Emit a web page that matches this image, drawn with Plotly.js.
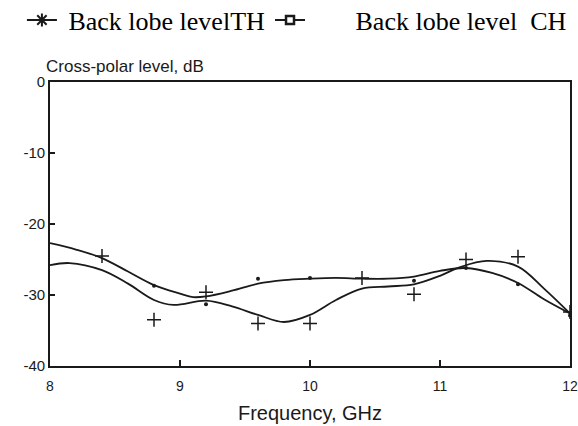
<!DOCTYPE html>
<html>
<head>
<meta charset="utf-8">
<script src="https://cdn.plot.ly/plotly-3.0.1.min.js"></script>
<style>html,body{margin:0;padding:0;background:#fff;}#chart{width:578px;height:426px;}</style>
</head>
<body>
<div id="chart"></div>
<script>
// Smoothed curve TH (starts upper at 8 GHz)
const thFreq = [8.0, 8.2, 8.4, 8.6, 8.8, 9.0, 9.1, 9.2, 9.4, 9.6, 9.8, 10.0, 10.2, 10.4, 10.6, 10.8, 11.0, 11.2, 11.4, 11.6, 11.8, 12.0];
const thLevel = [-22.7, -23.6, -24.8, -26.7, -28.6, -29.8, -30.3, -30.2, -29.4, -28.4, -27.9, -27.7, -27.6, -27.7, -27.7, -27.4, -26.6, -26.2, -26.9, -28.3, -30.6, -32.6];
// Smoothed curve CH (starts lower at 8 GHz)
const chFreq = [8.0, 8.15, 8.4, 8.6, 8.8, 8.95, 9.2, 9.4, 9.6, 9.8, 10.0, 10.2, 10.4, 10.6, 10.8, 11.0, 11.15, 11.36, 11.6, 11.8, 12.0];
const chLevel = [-25.8, -25.5, -26.5, -28.4, -30.7, -31.4, -30.8, -31.6, -32.8, -33.8, -32.8, -30.7, -29.1, -28.8, -28.5, -27.3, -26.1, -25.2, -26.0, -29.1, -32.6];
// Measured points: dots
const dotFreq = [8.8, 9.2, 9.6, 10.0, 10.8, 11.2, 11.6, 12.0];
const dotLevel = [-28.7, -31.3, -27.7, -27.6, -28.0, -26.2, -28.5, -32.9];
// Measured points: crosses
const crossFreq = [8.4, 8.8, 9.2, 9.6, 10.0, 10.4, 10.8, 11.2, 11.6, 12.0];
const crossLevel = [-24.5, -33.5, -29.6, -34.0, -34.0, -27.6, -29.9, -25.0, -24.6, -32.4];

const nameTH = "\u00A0Back lobe levelTH";
const nameCH = "\u00A0\u00A0\u00A0\u00A0\u00A0\u00A0\u00A0Back lobe level\u00A0\u00A0CH";
const xTicks = [8, 9, 10, 11, 12];
const yTicks = [0, -10, -20, -30, -40];

const ink = "#1a1a1a";
const traces = [
  {x: thFreq, y: thLevel, mode: "lines", showlegend: false, line: {shape: "spline", smoothing: 1, color: ink, width: 1.8}},
  {x: chFreq, y: chLevel, mode: "lines", showlegend: false, line: {shape: "spline", smoothing: 1, color: ink, width: 1.8}},
  {x: dotFreq, y: dotLevel, mode: "markers", showlegend: false, marker: {symbol: "circle", size: 4, color: ink}},
  {x: crossFreq, y: crossLevel, mode: "markers", showlegend: false, marker: {symbol: "cross-thin-open", size: 10, color: ink, line: {color: ink, width: 1.5}}},
  // legend keys
  {x: [null], y: [null], name: nameTH, mode: "lines+markers", showlegend: true, line: {color: ink, width: 2},
   marker: {symbol: "asterisk-open", size: 11, color: ink, line: {color: ink, width: 2}}},
  {x: [null], y: [null], name: nameCH, mode: "lines+markers", showlegend: true, line: {color: ink, width: 2},
   marker: {symbol: "square", size: 8, color: "#fff", line: {color: ink, width: 2.5}}}
];

const layout = {
  width: 578, height: 426,
  margin: {l: 50, r: 8, t: 82, b: 60, autoexpand: false},
  paper_bgcolor: "#fff", plot_bgcolor: "#fff",
  font: {family: "Liberation Sans, Arial, sans-serif", color: ink},
  showlegend: true,
  legend: {orientation: "h", x: -0.054, xanchor: "left", y: 1.218, yanchor: "middle",
           font: {family: "Liberation Serif, Times New Roman, serif", size: 26, color: "#000"},
           bgcolor: "rgba(0,0,0,0)", traceorder: "normal"},
  xaxis: {range: [8, 12], tickvals: xTicks, ticktext: xTicks.map(String), ticks: "inside", ticklen: 6, tickwidth: 1.5, tickcolor: ink,
          showline: true, linecolor: ink, linewidth: 1.8, mirror: true, showgrid: false, zeroline: false,
          ticklabelstandoff: 6,
          tickfont: {size: 14}, title: {text: "Frequency, GHz", font: {size: 20}, standoff: 13}},
  yaxis: {range: [-40, 0], tickvals: yTicks, ticktext: yTicks.map(String), ticks: "inside", ticklen: 5, tickwidth: 1.5, tickcolor: ink,
          showline: true, linecolor: ink, linewidth: 1.8, mirror: true, showgrid: false, zeroline: false,
          tickfont: {size: 15}},
  annotations: [{text: "Cross-polar level, dB", xref: "paper", yref: "paper", x: -0.012, y: 1.0, xanchor: "left", yanchor: "bottom",
                 yshift: 4, showarrow: false, font: {size: 17, color: ink}}]
};

Plotly.newPlot("chart", traces, layout, {displayModeBar: false, staticPlot: true});
</script>
</body>
</html>
